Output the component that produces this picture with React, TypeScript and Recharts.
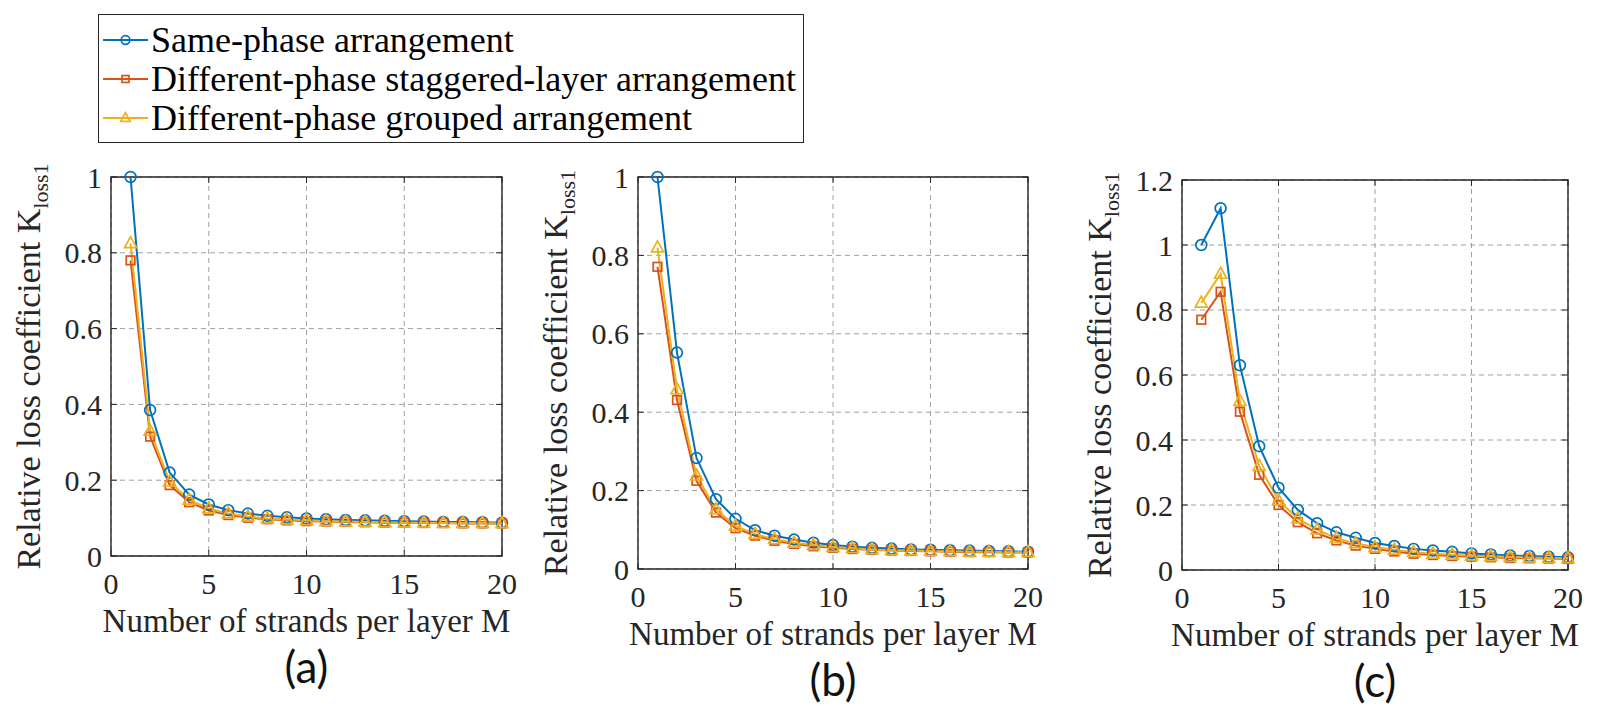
import { CartesianGrid, Legend, Line, LineChart, ReferenceArea, XAxis, YAxis } from "recharts";

const strands = [1, 2, 3, 4, 5, 6, 7, 8, 9, 10, 11, 12, 13, 14, 15, 16, 17, 18, 19, 20];
const xTicks = [0, 5, 10, 15, 20];
const yTicksUnit = [0, 0.2, 0.4, 0.6, 0.8, 1];
const yTicksC = [0, 0.2, 0.4, 0.6, 0.8, 1, 1.2];

const seriesOrder = ["same", "stag", "group"];
const seriesNames = {
  same: "Same-phase arrangement",
  stag: "Different-phase staggered-layer arrangement",
  group: "Different-phase grouped arrangement",
};

// (a)
const samePhaseA = [1.0, 0.385, 0.22, 0.162, 0.136, 0.121, 0.112, 0.106, 0.102, 0.099, 0.097, 0.095, 0.094, 0.093, 0.092, 0.091, 0.09, 0.09, 0.089, 0.088];
const staggeredA = [0.78, 0.315, 0.187, 0.142, 0.12, 0.108, 0.101, 0.097, 0.094, 0.092, 0.091, 0.09, 0.089, 0.088, 0.088, 0.087, 0.087, 0.086, 0.086, 0.086];
const groupedA = [0.825, 0.33, 0.196, 0.148, 0.125, 0.112, 0.104, 0.099, 0.096, 0.094, 0.092, 0.091, 0.09, 0.089, 0.088, 0.088, 0.087, 0.087, 0.087, 0.086];

// (b)
const samePhaseB = [1.0, 0.552, 0.283, 0.178, 0.128, 0.099, 0.085, 0.075, 0.067, 0.061, 0.057, 0.054, 0.052, 0.05, 0.049, 0.048, 0.047, 0.046, 0.045, 0.044];
const staggeredB = [0.771, 0.431, 0.225, 0.144, 0.104, 0.085, 0.072, 0.064, 0.058, 0.054, 0.051, 0.049, 0.047, 0.046, 0.045, 0.044, 0.043, 0.043, 0.042, 0.042];
const groupedB = [0.82, 0.458, 0.238, 0.152, 0.11, 0.089, 0.076, 0.067, 0.061, 0.056, 0.053, 0.05, 0.048, 0.047, 0.046, 0.045, 0.044, 0.044, 0.043, 0.043];

// (c)
const samePhaseC = [1.0, 1.113, 0.63, 0.381, 0.253, 0.185, 0.144, 0.116, 0.099, 0.083, 0.074, 0.065, 0.06, 0.056, 0.051, 0.048, 0.045, 0.043, 0.041, 0.039];
const staggeredC = [0.77, 0.856, 0.487, 0.293, 0.2, 0.147, 0.113, 0.091, 0.075, 0.065, 0.057, 0.05, 0.046, 0.043, 0.041, 0.039, 0.037, 0.036, 0.035, 0.034];
const groupedC = [0.822, 0.911, 0.52, 0.32, 0.214, 0.158, 0.124, 0.098, 0.082, 0.07, 0.062, 0.055, 0.05, 0.047, 0.044, 0.042, 0.04, 0.038, 0.037, 0.036];

const BLUE = "#0072BD";
const RED = "#D95319";
const YELLOW = "#EDB120";
const AX = "#262626";
const SERIF = "'Liberation Serif', 'Times New Roman', serif";
const H = 716;
const YW = 40;
const XH = 30;

const colors: Record<string, string> = { same: BLUE, stag: RED, group: YELLOW };

function marker(kind: string, cx: number, cy: number, key?: any, scale = 1) {
  const c = colors[kind];
  if (kind === "same") return <circle key={key} cx={cx} cy={cy} r={5.4 * scale} fill="none" stroke={c} strokeWidth={1.7} />;
  if (kind === "stag") {
    const h = 4.3 * scale;
    return <rect key={key} x={cx - h} y={cy - h} width={2 * h} height={2 * h} fill="none" stroke={c} strokeWidth={1.7} />;
  }
  return (
    <polygon
      key={key}
      points={`${cx},${cy - 6.6 * scale} ${cx - 6 * scale},${cy + 4.3 * scale} ${cx + 6 * scale},${cy + 4.3 * scale}`}
      fill="none"
      stroke={c}
      strokeWidth={1.7}
    />
  );
}

const dotFor = (kind: string) => (p: any) => {
  if (p.cx == null || p.cy == null) return <g key={p.index} />;
  return marker(kind, p.cx, p.cy, p.index);
};

function makeRows(same: number[], stag: number[], group: number[]) {
  return strands.map((m, i) => ({ m, same: same[i], stag: stag[i], group: group[i] }));
}

function renderLegend(props: any) {
  const payload = [...(props.payload || [])].sort(
    (a: any, b: any) => seriesOrder.indexOf(a.dataKey) - seriesOrder.indexOf(b.dataKey)
  );
  return (
    <div style={{ boxSizing: "border-box", width: "100%", height: "100%", border: `1px solid ${AX}`, background: "#fff", padding: "6px 0 0 3px" }}>
      {payload.map((entry: any) => (
        <div key={entry.dataKey} style={{ display: "flex", alignItems: "center", height: 38.7 }}>
          <svg width={47} height={20} style={{ flex: "none" }}>
            <line x1={1} x2={46} y1={10} y2={10} stroke={colors[entry.dataKey]} strokeWidth={2} />
            {marker(entry.dataKey, 23.5, 10, undefined, 0.8)}
          </svg>
          <span style={{ fontFamily: SERIF, fontSize: 36, color: "#000", marginLeft: 2, whiteSpace: "nowrap", lineHeight: "38px" }}>{entry.value}</span>
        </div>
      ))}
    </div>
  );
}

type PanelProps = {
  left: number;
  width: number;
  plotLeft: number;
  plotRight: number;
  plotTop: number;
  plotBottom: number;
  rows: any[];
  yMax: number;
  yTicks: number[];
  tag: string;
  legend?: boolean;
};

const serifStyle = (size: number) => ({ fontFamily: SERIF, fontSize: size });

function Panel({ left, width, plotLeft, plotRight, plotTop, plotBottom, rows, yMax, yTicks, tag, legend }: PanelProps) {
  const pl = plotLeft - left;
  const pr = plotRight - left;
  const pt = plotTop;
  const pb = plotBottom;
  const margin = { top: pt, left: pl - YW, right: width - pr, bottom: H - pb - XH };

  const xTick = (p: any) => (
    <g>
      <line x1={p.x} x2={p.x} y1={pb} y2={pb - 6} stroke={AX} strokeWidth={1} />
      <line x1={p.x} x2={p.x} y1={pt} y2={pt + 6} stroke={AX} strokeWidth={1} />
      <text x={p.x} y={pb + 38} textAnchor="middle" style={serifStyle(30)} fill={AX}>
        {p.payload.value}
      </text>
    </g>
  );

  const yTick = (p: any) => (
    <g>
      <line x1={pl} x2={pl + 6} y1={p.y} y2={p.y} stroke={AX} strokeWidth={1} />
      <line x1={pr} x2={pr - 6} y1={p.y} y2={p.y} stroke={AX} strokeWidth={1} />
      <text x={pl - 9} y={p.y} dy="0.35em" textAnchor="end" style={serifStyle(30)} fill={AX}>
        {String(p.payload.value)}
      </text>
    </g>
  );

  const xLabel = (p: any) => {
    const vb = p.viewBox || {};
    const cx = vb.x + vb.width / 2;
    return (
      <g>
        <text x={cx} y={pb + 76} textAnchor="middle" style={serifStyle(33)} fill={AX}>
          Number of strands per layer M
        </text>
        <text
          x={cx}
          y={pb + 110}
          textAnchor="middle"
          dominantBaseline="central"
          style={{ fontFamily: "Lato, 'Open Sans', sans-serif", fontSize: 44 }}
          fill="#111"
        >
          {tag}
        </text>
      </g>
    );
  };

  const yLabel = (p: any) => {
    const vb = p.viewBox || {};
    const cy = vb.y + vb.height / 2;
    const bx = pl - 71;
    return (
      <g>
        <text transform={`rotate(-90 ${bx} ${cy})`} x={bx} y={cy} textAnchor="middle" style={serifStyle(34)} fill={AX}>
          Relative loss coefficient K
          <tspan style={{ fontSize: 22 }} dy={8}>
            loss1
          </tspan>
        </text>
      </g>
    );
  };

  return (
    <div style={{ position: "absolute", left, top: 0, width, height: H }}>
      <LineChart width={width} height={H} data={rows} margin={margin}>
        <CartesianGrid stroke="#a0a0a0" strokeDasharray="5 4" strokeWidth={1} />
        <XAxis
          dataKey="m"
          type="number"
          domain={[0, 20]}
          ticks={xTicks}
          height={XH}
          axisLine={false}
          tickLine={false}
          tick={xTick}
          interval={0}
          label={xLabel}
        />
        <YAxis
          type="number"
          domain={[0, yMax]}
          ticks={yTicks}
          width={YW}
          axisLine={false}
          tickLine={false}
          tick={yTick}
          interval={0}
          label={yLabel}
        />
        <ReferenceArea x1={0} x2={20} y1={0} y2={yMax} fill="none" stroke={AX} strokeWidth={1.4} fillOpacity={0} strokeOpacity={1} />
        {legend && (
          <Legend
            verticalAlign="middle"
            align="center"
            layout="horizontal"
            content={renderLegend}
            wrapperStyle={{ position: "absolute", left: 98, top: 14, width: 706, height: 129 }}
          />
        )}
        <Line dataKey="same" name={seriesNames.same} stroke={BLUE} strokeWidth={2} dot={dotFor("same")} activeDot={false} isAnimationActive={false} />
        <Line dataKey="stag" name={seriesNames.stag} stroke={RED} strokeWidth={2} dot={dotFor("stag")} activeDot={false} isAnimationActive={false} />
        <Line dataKey="group" name={seriesNames.group} stroke={YELLOW} strokeWidth={2} dot={dotFor("group")} activeDot={false} isAnimationActive={false} />
      </LineChart>
    </div>
  );
}

export default function App() {
  return (
    <div style={{ position: "absolute", left: 0, top: 0, width: 1598, height: H, background: "#fff" }}>
      <Panel left={0} width={530} plotLeft={111} plotRight={502} plotTop={177} plotBottom={556} rows={makeRows(samePhaseA, staggeredA, groupedA)} yMax={1} yTicks={yTicksUnit} tag="(a)" legend />
      <Panel left={530} width={525} plotLeft={638} plotRight={1028} plotTop={177} plotBottom={569} rows={makeRows(samePhaseB, staggeredB, groupedB)} yMax={1} yTicks={yTicksUnit} tag="(b)" />
      <Panel left={1055} width={543} plotLeft={1182} plotRight={1568} plotTop={180} plotBottom={570} rows={makeRows(samePhaseC, staggeredC, groupedC)} yMax={1.2} yTicks={yTicksC} tag="(c)" />
    </div>
  );
}
